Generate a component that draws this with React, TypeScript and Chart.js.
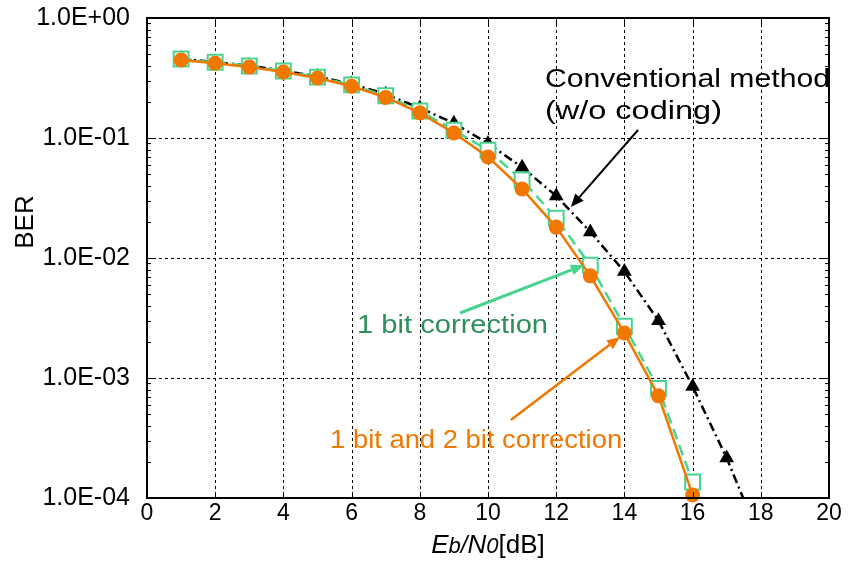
import React, { useEffect, useRef } from "react";
import { Chart, registerables } from "chart.js";

Chart.register(...registerables);

const FONT = "'Liberation Sans', Arial, sans-serif";

// ---- data ----
const ebN0 = [1, 2, 3, 4, 5, 6, 7, 8, 9, 10, 11, 12, 13, 14, 15, 16];
const ebN0Conv = [1, 2, 3, 4, 5, 6, 7, 8, 9, 10, 11, 12, 13, 14, 15, 16, 17, 18];

const berBoth = [0.447, 0.42, 0.39, 0.355, 0.316, 0.27, 0.218, 0.162, 0.11, 0.0695, 0.0376, 0.0181, 0.0071, 0.00237, 0.00071, 0.000106];
const berOneBit = [0.455, 0.428, 0.398, 0.362, 0.322, 0.277, 0.225, 0.168, 0.116, 0.079, 0.0447, 0.0215, 0.0087, 0.0027, 0.00082, 0.000136];
const berConv = [0.458, 0.43, 0.4, 0.365, 0.326, 0.282, 0.232, 0.178, 0.133, 0.09, 0.057, 0.0329, 0.0165, 0.0077, 0.003, 0.00085, 0.000215, 0.000044];

const xGridValues = [2, 4, 6, 8, 10, 12, 14, 16, 18];
const yTickValues = [1, 0.1, 0.01, 0.001, 0.0001];
const yTickLabels = ["1.0E+00", "1.0E-01", "1.0E-02", "1.0E-03", "1.0E-04"];

const ORANGE = "#f07800";
const GREEN = "#48d48f";
const GREEN_TEXT = "#2e8f5c";

// annotation config (data coordinates)
const annotationTexts = [
  { text: "Conventional method", x: 11.67, y: 0.266, color: "#000000", width: 285 },
  { text: "(w/o coding)", x: 11.67, y: 0.144, color: "#000000", width: 177 },
  { text: "1 bit correction", x: 6.16, y: 0.00237, color: GREEN_TEXT, width: 191 },
  { text: "1 bit and 2 bit correction", x: 5.37, y: 0.000261, color: ORANGE, width: 292 },
];
const annotationArrows = [
  { from: [14.4, 0.1166], to: [12.43, 0.0266], color: "#000000", lw: 2 },
  { from: [9.18, 0.00348], to: [12.81, 0.0087], color: GREEN, lw: 3 },
  { from: [10.67, 0.000447], to: [13.87, 0.0022], color: ORANGE, lw: 2.5 },
];

const decorPlugin = {
  id: "decor",
  beforeDatasetsDraw(chart: any) {
    const { ctx, chartArea: a, scales } = chart;
    const xs = scales.x, ys = scales.y;
    ctx.save();
    ctx.strokeStyle = "#000";
    ctx.lineWidth = 1;
    ctx.setLineDash([3, 3]);
    for (const v of xGridValues) {
      const px = Math.round(xs.getPixelForValue(v)) + 0.5;
      ctx.beginPath();
      ctx.moveTo(px, a.top);
      ctx.lineTo(px, a.bottom);
      ctx.stroke();
    }
    for (const v of yTickValues) {
      if (v === 1 || v === 0.0001) continue;
      const py = Math.round(ys.getPixelForValue(v)) + 0.5;
      ctx.beginPath();
      ctx.moveTo(a.left, py);
      ctx.lineTo(a.right, py);
      ctx.stroke();
    }
    ctx.restore();
  },
  afterDatasetsDraw(chart: any) {
    const { ctx, chartArea: a, scales } = chart;
    const xs = scales.x, ys = scales.y;
    ctx.save();
    // minor ticks on y
    ctx.strokeStyle = "#000";
    ctx.lineWidth = 1;
    ctx.setLineDash([]);
    for (let d = -4; d < 0; d++) {
      for (let m = 1; m <= 9; m++) {
        const v = m * Math.pow(10, d);
        const py = Math.round(ys.getPixelForValue(v)) + 0.5;
        const len = m === 1 ? 7 : 4;
        ctx.beginPath();
        ctx.moveTo(a.left, py);
        ctx.lineTo(a.left + len, py);
        ctx.moveTo(a.right, py);
        ctx.lineTo(a.right - len, py);
        ctx.stroke();
      }
    }
    for (let v = 0; v <= 20; v += 2) {
      const px = Math.round(xs.getPixelForValue(v)) + 0.5;
      ctx.beginPath();
      ctx.moveTo(px, a.bottom);
      ctx.lineTo(px, a.bottom - 6);
      ctx.moveTo(px, a.top);
      ctx.lineTo(px, a.top + 6);
      ctx.stroke();
    }
    // frame
    ctx.lineWidth = 2;
    ctx.strokeRect(a.left, a.top, a.right - a.left, a.bottom - a.top);

    // arrows
    for (const ar of annotationArrows) {
      const x1 = xs.getPixelForValue(ar.from[0]);
      const y1 = ys.getPixelForValue(ar.from[1]);
      const x2 = xs.getPixelForValue(ar.to[0]);
      const y2 = ys.getPixelForValue(ar.to[1]);
      const ang = Math.atan2(y2 - y1, x2 - x1);
      const hl = 13, hw = 5.5;
      const bx = x2 - hl * Math.cos(ang), by = y2 - hl * Math.sin(ang);
      ctx.strokeStyle = ar.color;
      ctx.fillStyle = ar.color;
      ctx.lineWidth = ar.lw;
      ctx.beginPath();
      ctx.moveTo(x1, y1);
      ctx.lineTo(bx, by);
      ctx.stroke();
      ctx.beginPath();
      ctx.moveTo(x2, y2);
      ctx.lineTo(bx + hw * Math.sin(ang), by - hw * Math.cos(ang));
      ctx.lineTo(bx - hw * Math.sin(ang), by + hw * Math.cos(ang));
      ctx.closePath();
      ctx.fill();
    }

    // annotation texts
    ctx.textBaseline = "alphabetic";
    ctx.textAlign = "left";
    for (const t of annotationTexts) {
      ctx.font = `26px ${FONT}`;
      const w = ctx.measureText(t.text).width;
      const sx = t.width / w;
      const px = xs.getPixelForValue(t.x);
      const py = ys.getPixelForValue(t.y);
      ctx.save();
      ctx.translate(px, py);
      ctx.scale(sx, 1);
      ctx.fillStyle = t.color;
      ctx.fillText(t.text, 0, 0);
      ctx.restore();
    }

    // x title: Eb/N0[dB]
    const parts = [
      { t: "E", f: `italic 26px ${FONT}` },
      { t: "b", f: `italic 22px ${FONT}` },
      { t: "/", f: `italic 24px ${FONT}` },
      { t: "N", f: `italic 26px ${FONT}` },
      { t: "0", f: `italic 22px ${FONT}` },
      { t: "[dB]", f: `26px ${FONT}` },
    ];
    let total = 0;
    for (const p of parts) {
      ctx.font = p.f;
      total += ctx.measureText(p.t).width;
    }
    let cx = (a.left + a.right) / 2 - total / 2;
    ctx.fillStyle = "#000";
    for (const p of parts) {
      ctx.font = p.f;
      ctx.fillText(p.t, cx, 553);
      cx += ctx.measureText(p.t).width;
    }

    // y title
    ctx.save();
    ctx.translate(33, 222);
    ctx.rotate(-Math.PI / 2);
    ctx.textAlign = "center";
    ctx.font = `26px ${FONT}`;
    ctx.fillText("BER", 0, 0);
    ctx.restore();

    ctx.restore();
  },
};

export default function App() {
  const ref = useRef<HTMLCanvasElement>(null);
  useEffect(() => {
    document.body.style.margin = "0";
    const chart = new Chart(ref.current as HTMLCanvasElement, {
      type: "line",
      data: {
        datasets: [
          {
            label: "1 bit and 2 bit correction",
            data: ebN0.map((x, i) => ({ x, y: berBoth[i] })),
            borderColor: ORANGE,
            backgroundColor: ORANGE,
            borderWidth: 2.5,
            pointStyle: "circle",
            pointRadius: 7.5,
            pointBorderWidth: 0,
            pointBackgroundColor: ORANGE,
            clip: false as any,
          },
          {
            label: "1 bit correction",
            data: ebN0.map((x, i) => ({ x, y: berOneBit[i] })),
            borderColor: GREEN,
            backgroundColor: "#ffffff",
            borderWidth: 2.5,
            borderDash: [11, 6],
            pointStyle: "rect",
            pointRadius: 10.5,
            pointBorderWidth: 2,
            pointBorderColor: GREEN,
            pointBackgroundColor: "#ffffff",
            clip: false as any,
          },
          {
            label: "Conventional method (w/o coding)",
            data: ebN0Conv.map((x, i) => ({ x, y: berConv[i] })),
            borderColor: "#000000",
            backgroundColor: "#000000",
            borderWidth: 2.5,
            borderDash: [9, 4, 2, 4],
            pointStyle: "triangle",
            pointRadius: ebN0Conv.map((x) => (x > 17 ? 0 : 8.5)),
            pointBorderWidth: 0,
            pointBackgroundColor: "#000000",
          },
        ],
      },
      options: {
        responsive: false,
        animation: false,
        devicePixelRatio: 1,
        layout: { padding: { top: 18, right: 22, left: 0, bottom: 0 } },
        plugins: { legend: { display: false }, tooltip: { enabled: false } },
        elements: { line: { tension: 0 } },
        scales: {
          x: {
            type: "linear",
            min: 0,
            max: 20,
            ticks: {
              stepSize: 2,
              color: "#000",
              font: { family: FONT, size: 23 },
              padding: 2,
              maxRotation: 0,
            },
            grid: { display: false, drawTicks: false },
            border: { display: false },
            afterFit: (s: any) => {
              s.height = 73;
              s.paddingLeft = 0;
              s.paddingRight = 0;
            },
          },
          y: {
            type: "logarithmic",
            min: 0.0001,
            max: 1,
            afterBuildTicks: (s: any) => {
              s.ticks = yTickValues.map((v) => ({ value: v }));
            },
            ticks: {
              color: "#000",
              font: { family: FONT, size: 25 },
              padding: 17,
              callback: (v: any) => {
                const i = yTickValues.findIndex((t) => Math.abs(Math.log10(t) - Math.log10(v)) < 1e-6);
                return i >= 0 ? yTickLabels[i] : "";
              },
            },
            grid: { display: false, drawTicks: false },
            border: { display: false },
            afterFit: (s: any) => {
              s.width = 147;
              s.paddingTop = 0;
              s.paddingBottom = 0;
            },
          },
        },
      } as any,
      plugins: [decorPlugin],
    });
    return () => chart.destroy();
  }, []);
  return (
    <div style={{ width: 851, height: 571 }}>
      <canvas ref={ref} width={851} height={571} style={{ display: "block" }} />
    </div>
  );
}
